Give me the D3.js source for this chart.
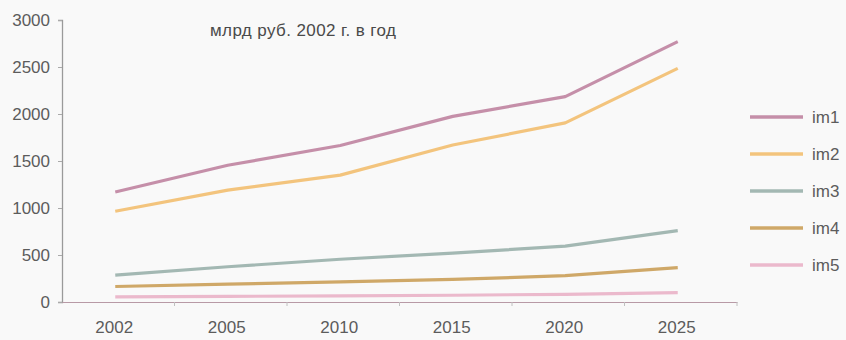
<!DOCTYPE html>
<html><head><meta charset="utf-8">
<script src="https://cdn.jsdelivr.net/npm/d3@7/dist/d3.min.js"></script>
<style>
html,body{margin:0;padding:0;background:#f8f8f8;}
svg{display:block;font-family:"Liberation Sans",Arial,sans-serif;}
</style></head>
<body>
<svg id="c" width="846" height="340"></svg>
<script>
const years = ["2002","2005","2010","2015","2020","2025"];
const seriesNames = ["im1","im2","im3","im4","im5"];
const im1 = [1170, 1455, 1665, 1975, 2185, 2770];
const im2 = [965, 1190, 1350, 1670, 1905, 2485];
const im3 = [285, 375, 455, 520, 595, 760];
const im4 = [165, 190, 215, 240, 280, 365];
const im5 = [55, 60, 65, 72, 82, 100];
const yTicks = [0, 500, 1000, 1500, 2000, 2500, 3000];
const colors = ["#c58fa9", "#f3c47d", "#a3b8b3", "#cfa868", "#ebb9cc"];
const title = "млрд руб. 2002 г. в год";

const svg = d3.select("#c");
const x = d3.scaleBand().domain(years).range([62, 737]);
const y = d3.scaleLinear().domain([0, 3000]).range([302, 20]);

svg.append("rect").attr("width",846).attr("height",340).attr("fill","#f9f9f9");

// y axis
const ya = svg.append("g").attr("transform","translate(62,0)")
  .call(d3.axisLeft(y).tickValues(yTicks).tickSize(4).tickPadding(8).tickFormat(d3.format("d")));
ya.select(".domain").attr("stroke","#9a9a9a").attr("stroke-width",1.3);
ya.selectAll(".tick line").attr("stroke","#aaa");
ya.selectAll("text").attr("fill","#5c5c5c").style("font-size","17px");

// x axis
const xa = svg.append("g").attr("transform","translate(0,302)")
  .call(d3.axisBottom(x).tickSize(0).tickPadding(19));
xa.select(".domain").attr("stroke","#b89aa6").attr("stroke-width",1.2);
xa.selectAll("text").attr("fill","#5c5c5c").style("font-size","17px").attr("dx","-4");
svg.append("g").selectAll("line").data(years).join("line")
  .attr("x1", d => x(d) + x.bandwidth()).attr("x2", d => x(d) + x.bandwidth())
  .attr("y1",302).attr("y2",306).attr("stroke","#c0c0c0");

const data = [im1, im2, im3, im4, im5];
const line = d3.line().x((d,i) => x(years[i]) + x.bandwidth()/2 - 3).y(d => y(d));
svg.append("g").selectAll("path").data(data).join("path")
  .attr("d", line).attr("fill","none")
  .attr("stroke",(d,i)=>colors[i]).attr("stroke-width",3.2).attr("stroke-linejoin","round");

// title
svg.append("text").attr("x",210).attr("y",36).text(title)
  .attr("fill","#4a4a4a").style("font-size","17px").style("letter-spacing","0.4px");

// legend
const lg = svg.append("g").selectAll("g").data(seriesNames).join("g")
  .attr("transform",(d,i)=>`translate(750,${117 + i*37})`);
lg.append("line").attr("x1",0).attr("x2",53).attr("y1",0).attr("y2",0)
  .attr("stroke",(d,i)=>colors[i]).attr("stroke-width",3.5);
lg.append("text").attr("x",62).attr("y",6).text(d=>d)
  .attr("fill","#5c5c5c").style("font-size","17px");
</script>
</body></html>
